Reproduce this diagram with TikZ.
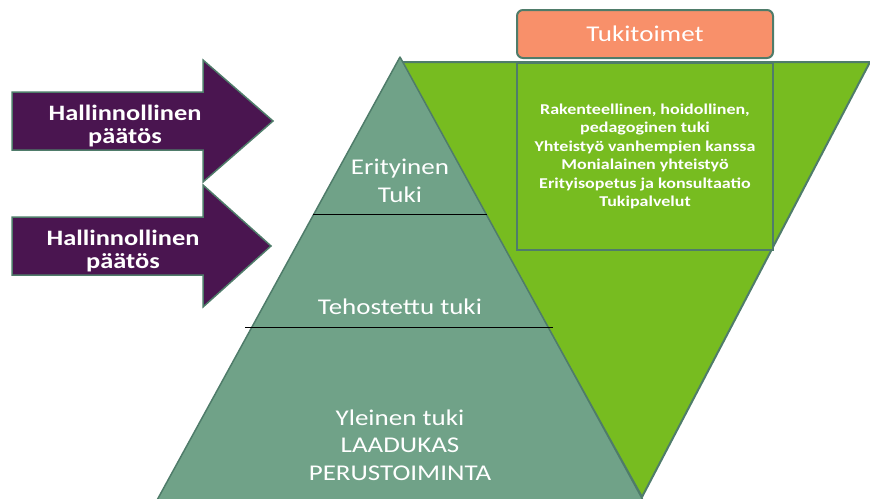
\documentclass[tikz,border=0pt]{standalone}
\usepackage{fontspec}
\setmainfont{Carlito}[FakeStretch=1.2]
\usetikzlibrary{positioning}

\definecolor{decisionpurple}{HTML}{4A1550}
\definecolor{edgegrey}{HTML}{4F7C6A}
\definecolor{pyramidgreen}{HTML}{70A288}
\definecolor{actiongreen}{HTML}{77BC20}
\definecolor{headerorange}{HTML}{F8906A}

\begin{document}
\begin{tikzpicture}[x=1pt,y=-1pt,
  arrowshape/.style={fill=decisionpurple,draw=edgegrey,line width=1.5pt,line join=miter},
  leveltext/.style={text=white,align=center,font=\fontsize{22.5}{27.5}\selectfont},
  arrowtext/.style={text=white,align=center,font=\fontsize{22}{23}\selectfont\bfseries},
  actionbox/.style={fill=actiongreen,draw=edgegrey,line width=2pt,minimum width=256pt,minimum height=187pt,
    text=white,align=center,font=\fontsize{15}{18.4}\selectfont\bfseries},
  headerbox/.style={fill=headerorange,draw=edgegrey,line width=2pt,rounded corners=6pt,
    minimum width=256pt,minimum height=48pt,text=white,font=\fontsize{22.5}{26}\selectfont}]
  \useasboundingbox (0,0) rectangle (870,498);

  % inverted triangle behind the pyramid
  \filldraw[fill=actiongreen,draw=edgegrey,line width=2pt,line join=round]
    (400,62) -- (870,62) -- (642,497) -- cycle;

  % pyramid and its levels
  \filldraw[fill=pyramidgreen,draw=edgegrey,line width=1.5pt,line join=round]
    (400,57) -- (644,502) -- (156,502) -- cycle;
  \draw[black,line width=1pt] (313,214) -- (487,214);
  \draw[black,line width=1pt] (245,327) -- (553,327);

  \node[leveltext] (special) at (400,181) {Erityinen\\Tuki};
  \node[leveltext] (intensified) at (400,307) {Tehostettu tuki};
  \node[leveltext] (general) at (400,445) {Yleinen tuki\\LAADUKAS\\PERUSTOIMINTA};

  % support actions
  \node[actionbox] (actions) at (645,156.5) {Rakenteellinen, hoidollinen,\\pedagoginen tuki\\Yhteistyö vanhempien kanssa\\Monialainen yhteistyö\\Erityisopetus ja konsultaatio\\Tukipalvelut};
  \node[headerbox] (header) [above=3pt of actions] {Tukitoimet};

  % decision arrows
  \filldraw[arrowshape] (12,92) -- (203,92) -- (203,60) -- (273,121) -- (203,182) -- (203,150) -- (12,150) -- cycle;
  \filldraw[arrowshape] (12,217) -- (203,217) -- (203,185) -- (271,246) -- (203,307) -- (203,275) -- (12,275) -- cycle;
  \node[arrowtext] (decision1) at (125,126.5) {Hallinnollinen\\päätös};
  \node[arrowtext] (decision2) at (123,251.5) {Hallinnollinen\\päätös};
\end{tikzpicture}
\end{document}
